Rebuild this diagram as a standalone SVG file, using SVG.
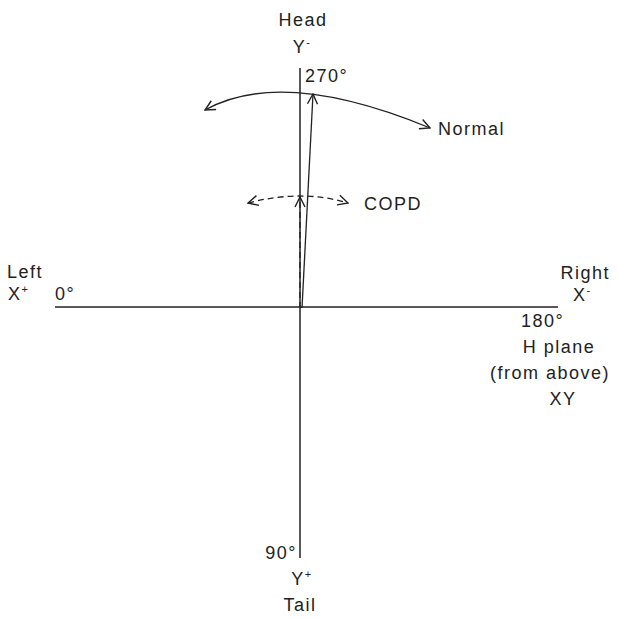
<svg xmlns="http://www.w3.org/2000/svg" width="618" height="618" viewBox="0 0 618 618">
<style>
text{font-family:"Liberation Sans",Arial,sans-serif;font-size:18px;fill:#222;letter-spacing:1.5px}
.ax{stroke:#222;stroke-width:1.5;fill:none}
.c{stroke:#222;stroke-width:1.3;fill:none}
.d{stroke:#222;stroke-width:1.3;fill:none;stroke-dasharray:6 4}
</style>
<defs>
<marker id="ah" viewBox="0 0 12 12" refX="11" refY="6" markerWidth="12" markerHeight="12" markerUnits="userSpaceOnUse" orient="auto-start-reverse">
<path d="M1,1 L11,6 L1,11" fill="none" stroke="#222" stroke-width="1.4"/>
</marker>
</defs>
<rect width="618" height="618" fill="#fff"/>
<g id="axes">
<line class="ax" x1="55" y1="307" x2="558" y2="307"/>
<line class="ax" x1="300" y1="68" x2="300" y2="558"/>
</g>
<g id="connectors">
<path id="normal-arc" class="c" d="M205,110 Q282,67 430,128" marker-start="url(#ah)" marker-end="url(#ah)"/>
<path id="copd-arc" class="d" d="M248,203 Q302,189 348,203" marker-start="url(#ah)" marker-end="url(#ah)"/>
<line id="normal-vec" class="c" x1="302" y1="308" x2="313" y2="94" marker-end="url(#ah)"/>
<line id="copd-vec" class="d" x1="300" y1="308" x2="300" y2="197" stroke-width="2" marker-end="url(#ah)"/>
</g>
<g id="head">
<text x="303" y="26" text-anchor="middle">Head</text>
<text x="302" y="53" text-anchor="middle">Y<tspan font-size="11" dy="-7">-</tspan></text>
<text x="305" y="82">270°</text>
</g>
<g id="normal"><text x="438" y="135">Normal</text></g>
<g id="copd"><text x="364" y="210">COPD</text></g>
<g id="left">
<text x="7" y="278">Left</text>
<text x="8" y="300">X<tspan font-size="11" dy="-7">+</tspan></text>
<text x="55" y="300">0°</text>
</g>
<g id="right">
<text x="610" y="279" text-anchor="end">Right</text>
<text x="573" y="301">X<tspan font-size="11" dy="-7">-</tspan></text>
<text x="521" y="327">180°</text>
<text x="559" y="353" text-anchor="middle">H plane</text>
<text x="550" y="379" text-anchor="middle">(from above)</text>
<text x="563" y="405" text-anchor="middle">XY</text>
</g>
<g id="tail">
<text x="297" y="559" text-anchor="end">90°</text>
<text x="302" y="585" text-anchor="middle">Y<tspan font-size="11" dy="-7">+</tspan></text>
<text x="300" y="611" text-anchor="middle">Tail</text>
</g>
</svg>
